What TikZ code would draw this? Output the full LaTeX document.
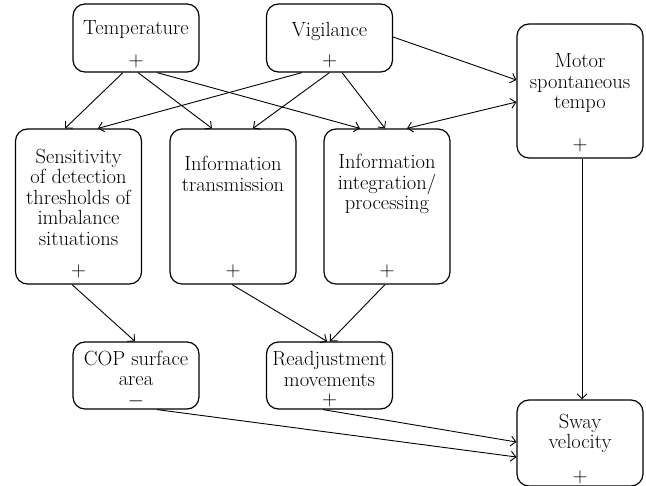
\documentclass[tikz,border=0pt]{standalone}
\usepackage{amsmath}
\usepackage{tikz}
\usetikzlibrary{arrows.meta}

\begin{document}
\begin{tikzpicture}[x=1pt, y=-1pt, font=\fontsize{20.5}{20.5}\selectfont,
	box/.style={draw, rounded corners=12pt, line width=1.2pt, minimum width=126pt, inner sep=0pt},
	title/.style={anchor=north, align=center, inner sep=0pt},
	sign/.style={anchor=center, inner sep=0pt},
	>={Straight Barb[length=5pt,width=10pt]}, line width=0.9pt]
	\useasboundingbox (0,0) rectangle (646,486);
	\node[box, minimum height=68pt, label={[title,yshift=-17pt]north:Temperature}, label={[sign,yshift=11pt]south:$+$}] (temp) at (136,38) {};
	\node[box, minimum height=68pt, label={[title,yshift=-18pt]north:Vigilance}, label={[sign,yshift=11pt]south:$+$}] (vig) at (329.5,38) {};
	\node[box, minimum height=134pt, label={[title,yshift=-30pt]north:Motor\\spontaneous\\tempo}, label={[sign,yshift=13pt]south:$+$}] (motor) at (580,91) {};
		\node[box, minimum height=155pt, label={[title,yshift=-20pt]north:Sensitivity\\of detection\\thresholds of\\imbalance\\situations}, label={[sign,yshift=13.5pt]south:$+$}] (sens) at (78.5,206.5) {};
		\node[box, minimum height=155pt, label={[title,yshift=-27.5pt]north:Information\\transmission}, label={[sign,yshift=13.5pt]south:$+$}] (trans) at (233,206.5) {};
		\node[box, minimum height=155pt, label={[title,yshift=-25.5pt]north:Information\\integration/\\processing}, label={[sign,yshift=13.5pt]south:$+$}] (integ) at (387,206.5) {};
			\node[box, minimum height=67pt, label={[title,yshift=-9pt]north:COP surface\\area}, label={[sign,yshift=8pt]south:$-$}] (cop) at (136,375.5) {};
			\node[box, minimum height=67pt, label={[title,yshift=-9.5pt]north:Readjustment\\movements}, label={[sign,yshift=9pt]south:$+$}] (readj) at (329.5,375.5) {};
			\node[box, minimum height=86pt, label={[title,yshift=-14pt]north:Sway\\velocity}, label={[sign,yshift=9pt]south:$+$}] (sway) at (580,443) {};
	\draw[->] ([xshift=-13pt]temp.south) to ([xshift=-13.5pt]sens.north);
	\draw[->] ([xshift=2pt]temp.south) to ([xshift=-21pt]trans.north);
	\draw[->] ([xshift=21pt]temp.south) to ([xshift=-27pt]integ.north);
	\draw[->] ([xshift=-27.5pt]vig.south) to ([xshift=19.5pt]sens.north);
	\draw[->] (vig.south) to ([xshift=20pt]trans.north);
	\draw[->] ([xshift=12.5pt]vig.south) to ([xshift=-2pt]integ.north);
	\draw[->] ([yshift=1pt]vig.east) to ([yshift=11pt]motor.west);
	\draw[<->] ([xshift=20pt]integ.north) to ([yshift=-11pt]motor.west);
	\draw[->] ([xshift=2pt]motor.south) to ([xshift=2pt]sway.north);
	\draw[->] ([xshift=-6.5pt]sens.south) to ([xshift=-1pt]cop.north);
	\draw[->] ([xshift=-1pt]trans.south) to ([xshift=-2.5pt]readj.north);
	\draw[->] ([xshift=-2pt]integ.south) to ([xshift=0.5pt]readj.north);
	\draw[->] ([xshift=21pt]cop.south) to ([yshift=-14pt]sway.west);
	\draw[->] ([xshift=-6.5pt]readj.south) to ([yshift=1pt]sway.west);
\end{tikzpicture}
\end{document}
